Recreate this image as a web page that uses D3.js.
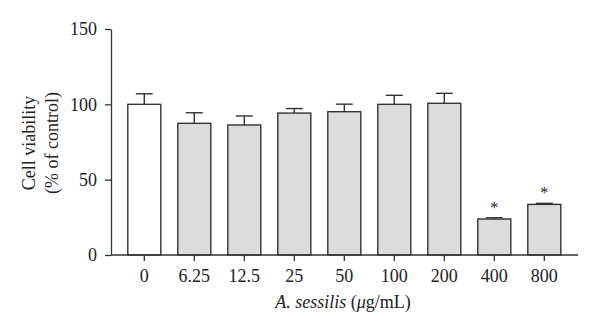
<!DOCTYPE html>
<html>
<head>
<meta charset="utf-8">
<script src="https://cdn.jsdelivr.net/npm/d3@7"></script>
<style>
  html, body { margin: 0; padding: 0; background: #fff; }
  svg { display: block; }
  svg text { font-family: "Liberation Serif", "Times New Roman", "DejaVu Serif", serif !important; fill: #222; }
</style>
</head>
<body>
<svg id="chart" width="600" height="334"></svg>
<script>
// Cell viability by extract concentration
const concentrations = ["0", "6.25", "12.5", "25", "50", "100", "200", "400", "800"];
const viability = [100, 87.4, 86.3, 94.2, 95.1, 100, 100.7, 23.9, 33.6];
const sem = [7, 7, 6, 3, 5, 6, 6.6, 0.8, 0.7];
const significant = [false, false, false, false, false, false, false, true, true];
const yTicks = [0, 50, 100, 150];

const svg = d3.select("#chart");
const ink = "#333";
const fontSize = 18;

const y = d3.scaleLinear().domain([0, 150]).range([255, 29]);
const x = d3.scaleBand()
  .domain(concentrations)
  .range([119.3, 569.3])
  .paddingInner(0.34)
  .paddingOuter(0.17);

// y axis
const yAxis = svg.append("g")
  .attr("transform", "translate(111,0)")
  .call(d3.axisLeft(y).tickValues(yTicks).tickSize(6).tickPadding(8).tickSizeOuter(0));
yAxis.attr("font-family", null).attr("font-size", null);
yAxis.select(".domain").attr("stroke", ink).attr("stroke-width", 1.3);
yAxis.selectAll(".tick line").attr("stroke", ink).attr("stroke-width", 1.3);
yAxis.selectAll(".tick text").attr("font-size", fontSize).attr("fill", "#222");

// x axis
const xAxis = svg.append("g")
  .attr("transform", "translate(0,255)")
  .call(d3.axisBottom(x).tickSize(6).tickPadding(8).tickSizeOuter(0));
xAxis.attr("font-family", null).attr("font-size", null);
xAxis.select(".domain").remove();
xAxis.selectAll(".tick line").attr("stroke", ink).attr("stroke-width", 1.3);
xAxis.selectAll(".tick text").attr("font-size", fontSize).attr("fill", "#222");

// bars
const bars = concentrations.map((c, i) => ({ c, v: viability[i], e: sem[i], s: significant[i], i }));

svg.append("g").selectAll("rect")
  .data(bars)
  .join("rect")
  .attr("x", d => x(d.c))
  .attr("y", d => y(d.v))
  .attr("width", x.bandwidth())
  .attr("height", d => y(0) - y(d.v))
  .attr("fill", d => d.i === 0 ? "#fff" : "#dcdcdc")
  .attr("stroke", ink)
  .attr("stroke-width", 1.4);

// upper error bars
const err = svg.append("g").attr("stroke", ink).attr("stroke-width", 1.4);
bars.forEach(d => {
  const cx = x(d.c) + x.bandwidth() / 2;
  err.append("line").attr("x1", cx).attr("x2", cx).attr("y1", y(d.v)).attr("y2", y(d.v + d.e));
  err.append("line").attr("x1", cx - 8.5).attr("x2", cx + 8.5).attr("y1", y(d.v + d.e)).attr("y2", y(d.v + d.e));
});

// significance marks
svg.append("g").selectAll("text")
  .data(bars.filter(d => d.s))
  .join("text")
  .attr("x", d => x(d.c) + x.bandwidth() / 2)
  .attr("y", d => y(d.v + d.e) - 5)
  .attr("text-anchor", "middle")
  .attr("font-size", 16)
  .text("*");

// x axis baseline
svg.append("line")
  .attr("x1", 111).attr("x2", 578)
  .attr("y1", y(0)).attr("y2", y(0))
  .attr("stroke", ink).attr("stroke-width", 1.3);

// axis titles
const yTitle = svg.append("text")
  .attr("transform", "translate(0,143) rotate(-90)")
  .attr("text-anchor", "middle")
  .attr("font-size", fontSize);
yTitle.append("tspan").attr("x", 0).attr("y", 35).text("Cell viability");
yTitle.append("tspan").attr("x", 0).attr("y", 58).text("(% of control)");

const xTitle = svg.append("text")
  .attr("x", 343).attr("y", 308)
  .attr("text-anchor", "middle")
  .attr("font-size", fontSize);
xTitle.append("tspan").attr("font-style", "italic").text("A. sessilis");
xTitle.append("tspan").text(" (");
xTitle.append("tspan").attr("font-style", "italic").text("μ");
xTitle.append("tspan").text("g/mL)");
</script>
</body>
</html>
